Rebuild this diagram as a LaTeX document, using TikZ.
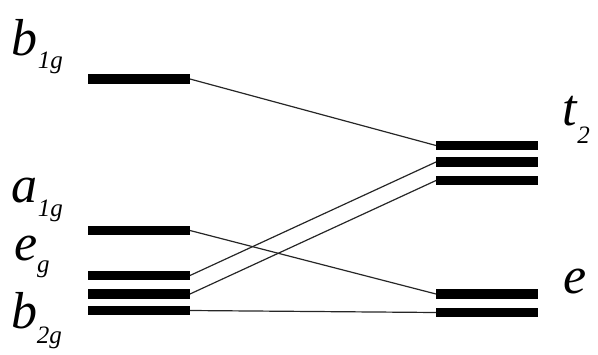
\documentclass[tikz,border=0pt]{standalone}
\usepackage{fontspec}
\setmainfont{Liberation Serif}
\newcommand{\bigsz}{\fontsize{52}{60}\selectfont}
\newcommand{\subsz}{\fontsize{25}{28}\selectfont}
\newcommand{\lvl}[3]{{\bigsz\textit{#1}}\raisebox{-#3pt}{\subsz\textit{#2}}}
\begin{document}
\begin{tikzpicture}[x=1pt,y=-1pt,
  level/.style={fill=black,draw=none,minimum width=102pt,minimum height=9.5pt,inner sep=0pt,outer sep=0pt},
  conn/.style={line width=1.2pt,draw=black!85},
  lab/.style={anchor=base west,inner sep=0pt,outer sep=0pt}]
\useasboundingbox (0,0) rectangle (598,354);
% left levels
\node[level] (b1g) at (139,79) {};
\node[level] (a1g) at (139,230.5) {};
\node[level] (eg1) at (139,275.5) {};
\node[level] (eg2) at (139,294) {};
\node[level] (b2g) at (139,310.5) {};
% right levels
\node[level] (t2a) at (487,145.5) {};
\node[level] (t2b) at (487,162) {};
\node[level] (t2c) at (487,180.5) {};
\node[level] (ea) at (487,294) {};
\node[level] (eb) at (487,312.5) {};
% connectors
\draw[conn] (b1g.east) -- (t2a.west);
\draw[conn] (a1g.east) -- (ea.west);
\draw[conn] (eg1.east) -- (t2b.west);
\draw[conn] (eg2.east) -- (t2c.west);
\draw[conn] (b2g.east) -- (eb.west);
% labels
\node[lab] (lb1g) at (12,55) {\lvl{b}{1g}{13}};
\node[lab] (la1g) at (12,202) {\lvl{a}{1g}{14}};
\node[lab] (leg) at (14,260) {\lvl{e}{g}{12}};
\node[lab] (lb2g) at (11,328) {\lvl{b}{2g}{15}};
\node[lab] (lt2) at (562,125) {\lvl{t}{2}{18}};
\node[lab] (le) at (563,293) {{\bigsz\textit{e}}};
\end{tikzpicture}
\end{document}
